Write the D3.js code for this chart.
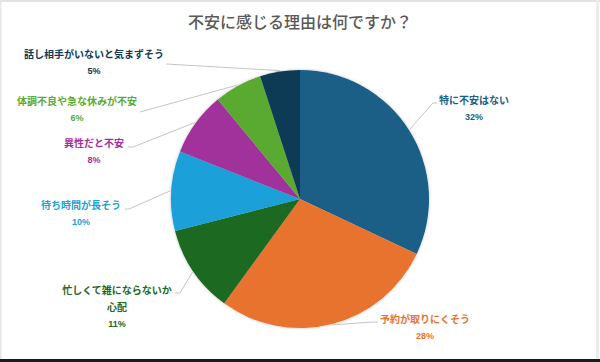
<!DOCTYPE html>
<html>
<head>
<meta charset="utf-8">
<script src="https://cdn.jsdelivr.net/npm/d3@7"></script>
<style>
  body { margin: 0; background: #fff; }
  svg { display: block; font-family: "Noto Sans CJK JP", "Noto Sans", sans-serif; }
</style>
</head>
<body>
<div id="chart-area"></div>
<script>
const WIDTH = 600
const HEIGHT = 362

// data
const categories = ["特に不安はない", "予約が取りにくそう", "忙しくて雑にならないか心配", "待ち時間が長そう", "異性だと不安", "体調不良や急な休みが不安", "話し相手がいないと気まずそう"]
const values = [32, 28, 11, 10, 8, 6, 5]
const colors = ["#1b5f86", "#e8732f", "#1e6a24", "#1ba0d9", "#a2319b", "#5aaa33", "#0f3a56"]

// label layout: text lines, center x, first line y, leader start [x, y] + elbow x
const labelLines = [["特に不安はない"], ["予約が取りにくそう"], ["忙しくて雑にならないか", "心配"], ["待ち時間が長そう"], ["異性だと不安"], ["体調不良や急な休みが不安"], ["話し相手がいないと気まずそう"]]
const labelPos = [
  { x: 474, y: 100, lx: 437, ly: 103, ex: 433 },
  { x: 425, y: 319, lx: 378, ly: 322, ex: 372 },
  { x: 117, y: 290, lx: 175, ly: 293, ex: 180 },
  { x: 81, y: 205, lx: 125, ly: 209, ex: 129 },
  { x: 94, y: 143, lx: 128, ly: 147, ex: 133 },
  { x: 77, y: 101, lx: 140, ly: 112, ex: 140 },
  { x: 94, y: 54, lx: 166, ly: 64, ex: 166 }
]

const svg = d3.select("#chart-area")
    .append("svg")
    .attr("width", WIDTH)
    .attr("height", HEIGHT)

// frame
svg.append("rect").attr("width", WIDTH).attr("height", HEIGHT).attr("fill", "#fff")
svg.append("rect").attr("x", 0).attr("y", 0).attr("width", WIDTH).attr("height", 2).attr("fill", "#e2e2e2")
svg.append("rect").attr("x", 0).attr("y", 0).attr("width", 1.5).attr("height", HEIGHT).attr("fill", "#e6e6e6")
svg.append("rect").attr("x", 596).attr("y", 0).attr("width", 3).attr("height", HEIGHT).attr("fill", "#ececec")
svg.append("rect").attr("x", 0).attr("y", 359).attr("width", WIDTH).attr("height", 3).attr("fill", "#1a1a1a")

svg.append("text")
    .attr("x", 300)
    .attr("y", 28)
    .attr("text-anchor", "middle")
    .style("font-size", "16px")
    .style("font-weight", 500)
    .style("fill", "#595959")
    .text("不安に感じる理由は何ですか？")

const defs = svg.append("defs")
const f = defs.append("filter").attr("id", "shadow").attr("x", "-10%").attr("y", "-10%").attr("width", "120%").attr("height", "120%")
f.append("feDropShadow").attr("dx", 0).attr("dy", 0).attr("stdDeviation", 1.5).attr("flood-color", "#000").attr("flood-opacity", 0.25)

const CX = 300, CY = 199, R = 129

const pie = d3.pie().sort(null).value(d => d)
const arcs = pie(values)
const arc = d3.arc().innerRadius(0).outerRadius(R)
const outer = d3.arc().innerRadius(R + 1).outerRadius(R + 1)

const g = svg.append("g").attr("transform", `translate(${CX}, ${CY})`)

g.append("g").attr("filter", "url(#shadow)")
  .selectAll("path")
  .data(arcs)
  .enter()
  .append("path")
    .attr("d", arc)
    .attr("fill", (d, i) => colors[i])

// leader lines
svg.selectAll(".leader")
  .data(arcs)
  .enter()
  .append("polyline")
    .attr("class", "leader")
    .attr("points", (d, i) => {
      const p = labelPos[i]
      const c = outer.centroid(d)
      return [[p.lx, p.ly], [p.ex, p.ly], [CX + c[0], CY + c[1]]].map(q => q.join(",")).join(" ")
    })
    .attr("fill", "none")
    .attr("stroke", "#b5b5b5")
    .attr("stroke-width", 0.8)

// labels
const labels = svg.selectAll(".label")
  .data(arcs)
  .enter()
  .append("text")
    .attr("class", "label")
    .attr("text-anchor", "middle")
    .style("font-weight", "bold")
    .style("fill", (d, i) => colors[i])

labels.each(function (d, i) {
  const t = d3.select(this)
  const p = labelPos[i]
  labelLines[i].forEach((line, k) => {
    t.append("tspan")
      .attr("x", p.x)
      .attr("y", p.y + 4 + k * 17)
      .style("font-size", "10px")
      .text(line)
  })
  t.append("tspan")
    .attr("x", p.x)
    .attr("y", p.y + 4 + (labelLines[i].length - 1) * 17 + 16)
    .style("font-size", "9px")
    .style("font-family", "'Liberation Sans', Arial, sans-serif")
    .text(values[i] + "%")
})
</script>
</body>
</html>
